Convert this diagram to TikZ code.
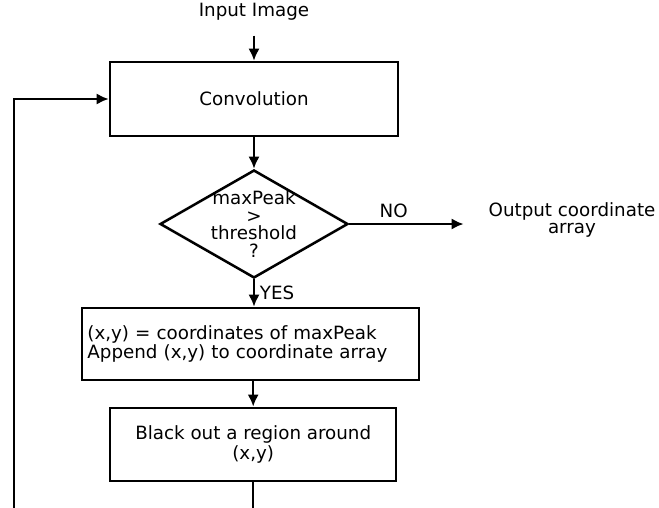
\documentclass[tikz,border=0pt]{standalone}
\usepackage{fontspec}
\setmainfont{DejaVu Sans}
\usetikzlibrary{positioning}
\usetikzlibrary{shapes.geometric}
\usetikzlibrary{arrows.meta}

\begin{document}
\begin{tikzpicture}[
  font=\fontsize{13}{14}\selectfont,
  box/.style={draw, line width=1.8pt, minimum width=7.2cm, minimum height=1.85cm, align=center},
  decision/.style={draw, diamond, line width=1.8pt, minimum width=4.7cm, minimum height=2.7cm, inner sep=0pt},
  flow/.style={-{Latex[length=3mm,width=2.8mm]}, line width=1.8pt},
  wire/.style={line width=1.8pt},
  tight/.style={align=center, font=\fontsize{13}{12.5}\selectfont}
]
\useasboundingbox (0,0) rectangle (16.475,-12.7);

% Blocks
\node (in) at (6.35,-0.3) {Input Image};
\node[box] (conv) at (6.35,-2.475) {Convolution};
\node[decision] (dec) at (6.35,-5.6) {};
\node[tight] (dectext) at (dec) {maxPeak\\>\\threshold\\?};
\node[tight] (out) at (14.3,-5.5) {Output coordinate\\array};
\node[box, minimum width=8.425cm, minimum height=1.8cm, text width=8.15cm, align=left,
      font=\fontsize{13}{11}\selectfont] (peak) at (6.26,-8.6)
  {(x,y) = coordinates of maxPeak\\Append (x,y) to coordinate array};
\node[box, minimum width=7.15cm, minimum height=1.825cm] (black) at (6.33,-11.11)
  {Black out a region around\\(x,y)};

% Loose ends at the lower edge
\coordinate (bot) at (6.33,-12.7);
\coordinate (loop) at (0.35,-12.7);

% Connectors
\draw[flow, shorten <=0.25cm] (in) -- (conv);
\draw[flow] (conv) -- (dec);
\draw[flow, shorten >=0.5cm] (dec.east) -- (dec.east -| out.west)
  node[above, pos=0.33] (no) {NO};
\draw[flow] (dec.south) -- (dec.south |- peak.north)
  node[right, pos=0.5] (yes) {YES};
\draw[flow] (peak.south -| black.north) -- (black.north);
\draw[wire] (black) -- (bot);
\draw[flow] (loop) |- (conv);

\end{tikzpicture}
\end{document}
